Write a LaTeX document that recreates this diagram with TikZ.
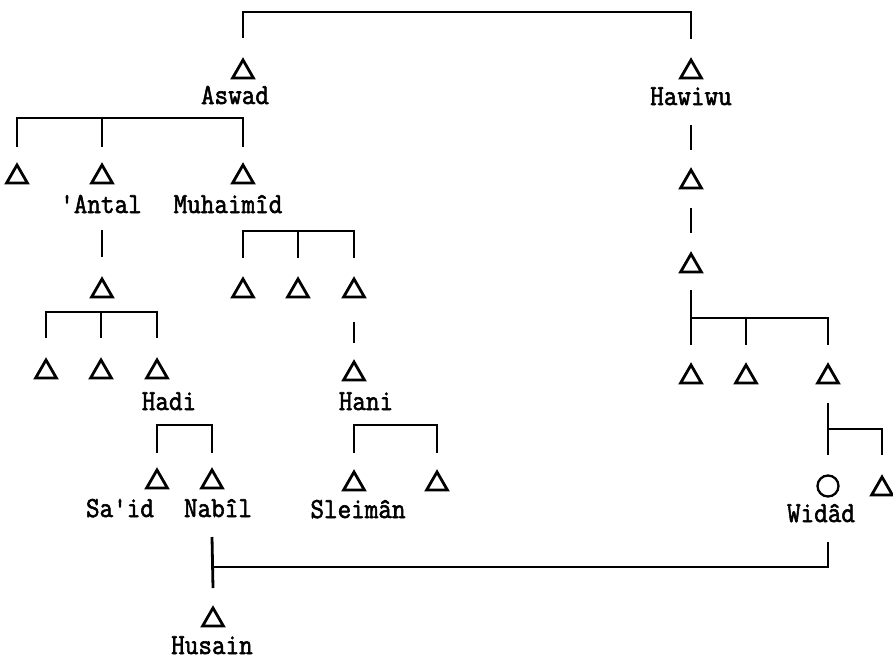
\documentclass[tikz,border=0pt]{standalone}
\usepackage{fontspec}
\usetikzlibrary{shapes.geometric}
% names are set in a narrowed, slightly heavier typewriter face
\newcommand{\pname}[1]{\scalebox{0.91}[1]{\special{pdf:literal direct 2 Tr 0.6 w}#1\special{pdf:literal direct 0 Tr}}}
\begin{document}
\begin{tikzpicture}[x=1pt,y=-1pt,
  line width=2.8pt,
  male/.style={draw, regular polygon, regular polygon sides=3, minimum size=24pt, inner sep=0pt, line width=2.8pt},
  female/.style={draw, circle, minimum size=21pt, inner sep=0pt, line width=2.3pt},
  lab/.style={anchor=base, inner sep=0pt, font=\ttfamily\fontsize{29}{29}\selectfont}]
\useasboundingbox[fill=white] (0,0) rectangle (893,661);

% persons (triangle centres shifted so the glyph sits on its box centre)
\node[male] (aswad)   at (243,72)  {};
\node[male] (hawiwu)  at (691,72)  {};
\node[male] (hb)      at (691,182) {};
\node[male] (hc)      at (691,266) {};
\node[male] (a1)      at (17,177)  {};
\node[male] (antal)   at (102,177) {};
\node[male] (muh)     at (243,177) {};
\node[male] (antc)    at (102,291) {};
\node[male] (ac1)     at (46,372)  {};
\node[male] (ac2)     at (101,372) {};
\node[male] (hadi)    at (157,372) {};
\node[male] (m1)      at (243,291) {};
\node[male] (m2)      at (298,291) {};
\node[male] (m3)      at (354,291) {};
\node[male] (hani)    at (354,374) {};
\node[male] (said)    at (157,482) {};
\node[male] (nabil)   at (212,482) {};
\node[male] (sleiman) at (354,484) {};
\node[male] (s2)      at (437,484) {};
\node[male] (hw1)     at (691,377) {};
\node[male] (hw2)     at (746,377) {};
\node[male] (hw3)     at (828,377) {};
\node[female] (widad) at (828,486) {};
\node[male] (w2)      at (882,489) {};
\node[male] (husain)  at (213,620) {};

% names
\node[lab] (lAswad)   at (235,104) {\pname{Aswad}};
\node[lab] (lHawiwu)  at (691,105) {\pname{Hawiwu}};
\node[lab] (lAntal)   at (101,213) {\pname{'Antal}};
\node[lab] (lMuh)     at (228,213) {\pname{Muhaimîd}};
\node[lab] (lHadi)    at (169,410) {\pname{Hadi}};
\node[lab] (lHani)    at (366,410) {\pname{Hani}};
\node[lab] (lSaid)    at (120,517) {\pname{Sa'id}};
\node[lab] (lNabil)   at (218,517) {\pname{Nabîl}};
\node[lab] (lSleiman) at (358,518) {\pname{Sleimân}};
\node[lab] (lWidad)   at (821,522) {\pname{Widâd}};
\node[lab] (lHusain)  at (212,654) {\pname{Husain}};

% marriage of Aswad's and Hawiwu's line
\draw (aswad |- 0,38) |- (hawiwu |- 0,12) -- (hawiwu |- 0,39);

% children of Aswad
\draw (a1 |- 0,147) |- (muh |- 0,118) -- (muh |- 0,147);
\draw (antal |- 0,118) -- (antal |- 0,147);

% line of 'Antal
\draw (antal |- 0,230) -- (antal |- 0,257);
\draw (ac1 |- 0,338) |- (hadi |- 0,312) -- (hadi |- 0,338);
\draw (ac2 |- 0,312) -- (ac2 |- 0,338);
\draw (said |- 0,453) |- (nabil |- 0,425) -- (nabil |- 0,453);

% line of Muhaimîd
\draw (m1 |- 0,258) |- (m3 |- 0,231) -- (m3 |- 0,258);
\draw (m2 |- 0,231) -- (m2 |- 0,258);
\draw (m3 |- 0,322) -- (m3 |- 0,343);
\draw (sleiman |- 0,453) |- (s2 |- 0,425) -- (s2 |- 0,453);

% line of Hawiwu
\draw (hawiwu |- 0,125) -- (hawiwu |- 0,150);
\draw (hb |- 0,208) -- (hb |- 0,233);
\draw (hc |- 0,290) -- (hw1 |- 0,345);
\draw (hw1 |- 0,318) -| (hw3 |- 0,345);
\draw (hw2 |- 0,318) -- (hw2 |- 0,345);
\draw (hw3 |- 0,403) -- (widad |- 0,455);
\draw (widad |- 0,429) -| (w2 |- 0,455);

% marriage of Nabîl and Widâd, their son Husain
\draw (widad |- 0,542) |- (nabil |- 0,567);
\draw (nabil |- 0,537) -- (husain |- 0,588);
\end{tikzpicture}
\end{document}
